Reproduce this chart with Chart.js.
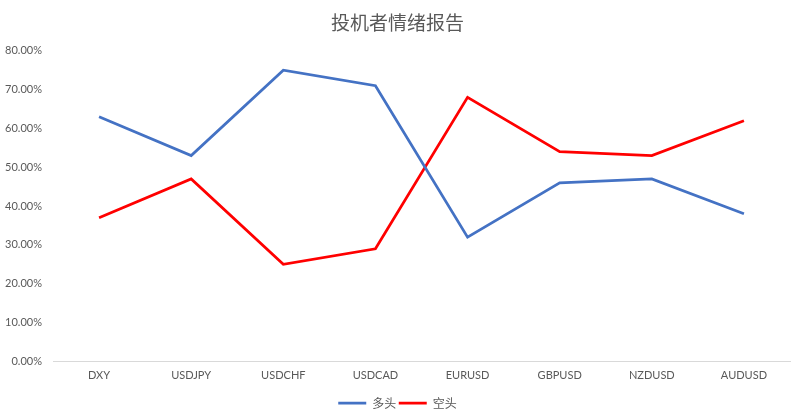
<!DOCTYPE html>
<html>
<head>
<meta charset="utf-8">
<script src="https://cdn.jsdelivr.net/npm/chart.js@4.4.1/dist/chart.umd.min.js"></script>
<style>
  html, body { margin: 0; padding: 0; background: #fff; }
  #wrap { width: 795px; height: 419px; }
</style>
</head>
<body>
<div id="wrap"><canvas id="chart" width="795" height="419"></canvas></div>
<script>
/* ── Data ───────────────────────────────────────────────── */
const categories = ['DXY', 'USDJPY', 'USDCHF', 'USDCAD', 'EURUSD', 'GBPUSD', 'NZDUSD', 'AUDUSD'];
const longPct  = [0.63, 0.53, 0.75, 0.71, 0.32, 0.46, 0.47, 0.38];   // 多头
const shortPct = [0.37, 0.47, 0.25, 0.29, 0.68, 0.54, 0.53, 0.62];   // 空头
const yTicks   = [0, 0.1, 0.2, 0.3, 0.4, 0.5, 0.6, 0.7, 0.8];

const FONT = "Lato, 'Noto Sans CJK SC', sans-serif";
const CJK  = "'Noto Sans CJK SC', Lato, sans-serif";
const GREY = '#595959';

/* ── Chart ──────────────────────────────────────────────── */
new Chart(document.getElementById('chart').getContext('2d'), {
  type: 'line',
  data: {
    labels: categories,
    datasets: [
      { label: '多头', data: longPct,  borderColor: '#4472C4', backgroundColor: '#4472C4',
        borderWidth: 2.75, pointRadius: 0, tension: 0 },
      { label: '空头', data: shortPct, borderColor: '#FF0000', backgroundColor: '#FF0000',
        borderWidth: 2.75, pointRadius: 0, tension: 0 },
    ],
  },
  options: {
    responsive: false,
    animation: false,
    layout: { padding: { left: 5, right: 5, top: 0, bottom: 0 } },
    plugins: {
      title: {
        display: true,
        text: '投机者情绪报告',
        color: GREY,
        font: { family: CJK, size: 19, weight: 'normal' },
        padding: { top: 11, bottom: 17 },
      },
      legend: {
        position: 'bottom',
        labels: {
          color: GREY,
          font: { family: CJK, size: 12 },
          usePointStyle: true,
          pointStyle: 'line',
          pointStyleWidth: 28,
          boxHeight: 3,
          padding: 2.5,
        },
      },
      tooltip: { enabled: false },
    },
    scales: {
      x: {
        offset: true,
        afterFit: axis => { axis.height += 4; },
        grid: { display: false, drawTicks: false },
        border: { display: true, color: '#D9D9D9', width: 1 },
        ticks: { color: GREY, font: { family: FONT, size: 11 }, padding: 8 },
      },
      y: {
        min: 0,
        max: 0.8,
        afterBuildTicks: axis => { axis.ticks = yTicks.map(v => ({ value: v })); },
        afterFit: axis => { axis.width = 48; },
        grid: { display: false, drawTicks: false },
        border: { display: false },
        ticks: {
          color: GREY,
          font: { family: FONT, size: 11 },
          padding: 11,
          callback: v => (v * 100).toFixed(2) + '%',
        },
      },
    },
  },
});
</script>
</body>
</html>
